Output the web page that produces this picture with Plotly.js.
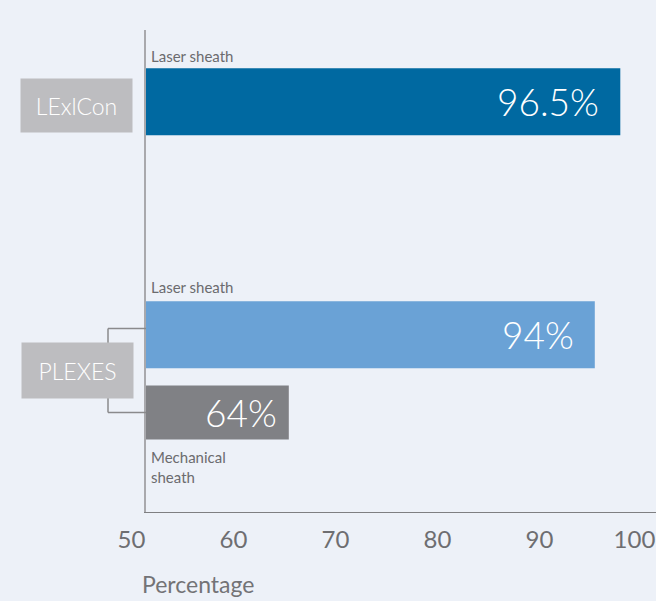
<!DOCTYPE html>
<html>
<head>
<meta charset="utf-8">
<script src="https://cdn.plot.ly/plotly-3.0.1.min.js"></script>
<style>html,body{margin:0;padding:0;background:#edf1f8;}#chart{width:656px;height:601px;}</style>
</head>
<body>
<div id="chart"></div>
<script>
// ---- data ----
const groups = ['LExlCon', 'PLEXES', 'PLEXES'];
const sheaths = ['Laser sheath', 'Laser sheath', 'Mechanical sheath'];
const values = [96.5, 94, 64];
const tickValues = [50, 60, 70, 80, 90, 100];
const axisTitle = 'Percentage';

// ---- derived ----
const ids = groups.map((g, i) => g + ' – ' + sheaths[i]);
const categoryOrder = [ids[0], ' ', '  ', ids[1], ids[2]];
const colors = ['#0069a1', '#6aa2d6', '#808185'];
const widths = [0.862, 0.862, 0.695];

const FONT = 'Lato, "Open Sans", "Noto Sans", sans-serif';

const trace = {
  type: 'bar',
  orientation: 'h',
  x: values,
  y: ids,
  width: widths,
  marker: {color: colors, line: {width: 0}},
  hoverinfo: 'skip',
  showlegend: false
};

const annotations = [];
// value labels inside bars
const padRight = [19, 19, 10];
values.forEach((v, i) => {
  annotations.push({
    x: v, y: ids[i], xref: 'x', yref: 'y',
    text: v + '%', showarrow: false,
    xanchor: 'right', yanchor: 'middle', xshift: -padRight[i],
    font: {family: FONT, size: 37, color: '#ffffff', weight: 300}
  });
});
// sheath labels
sheaths.forEach((s, i) => {
  const below = s.startsWith('Mechanical');
  annotations.push({
    x: tickValues[0], y: ids[i], xref: 'x', yref: 'y',
    text: below ? s.replace(' ', '<br>') : s,
    showarrow: false, align: 'left',
    xanchor: 'left', yanchor: 'middle', xshift: 3,
    yshift: below ? -55 : (i === 0 ? 46 : 48),
    font: {family: FONT, size: 15, color: '#6b6b6e'}
  });
});
// group boxes
annotations.push({
  x: 0, xref: 'paper', y: ids[0], yref: 'y',
  text: groups[0], showarrow: false,
  xanchor: 'right', yanchor: 'middle', xshift: -13, yshift: -4,
  width: 111, height: 53, borderpad: 0, bgcolor: '#bdbdc0',
  font: {family: FONT, size: 23, color: '#ffffff', weight: 300}
});
annotations.push({
  x: 0, xref: 'paper', y: 3.5, yref: 'y',
  text: groups[1], showarrow: false,
  xanchor: 'right', yanchor: 'middle', xshift: -12, yshift: 3,
  width: 111, height: 55, borderpad: 0, bgcolor: '#bdbdc0',
  font: {family: FONT, size: 23, color: '#ffffff', weight: 300}
});
// axis title
annotations.push({
  x: 0, xref: 'paper', y: 0, yref: 'paper',
  text: axisTitle, showarrow: false,
  xanchor: 'left', yanchor: 'middle', xshift: -6, yshift: -72,
  font: {family: FONT, size: 23, color: '#737376'}
});

const bracketColor = '#8a8a8c';
const shapes = [
  {type: 'line', xref: 'paper', yref: 'y', x0: -0.0745, x1: 0, y0: 2.92, y1: 2.92, line: {color: bracketColor, width: 1.5}},
  {type: 'line', xref: 'paper', yref: 'y', x0: -0.0745, x1: 0, y0: 4, y1: 4, line: {color: bracketColor, width: 1.5}},
  {type: 'line', xref: 'paper', yref: 'y', x0: -0.0745, x1: -0.0745, y0: 2.92, y1: 4, line: {color: bracketColor, width: 1.5}}
];

const layout = {
  width: 656, height: 601,
  margin: {l: 146, r: 0, t: 30, b: 89},
  paper_bgcolor: '#edf1f8',
  plot_bgcolor: '#edf1f8',
  font: {family: FONT},
  xaxis: {
    range: [50, 100],
    tickvals: tickValues,
    ticks: '',
    showgrid: false, zeroline: false,
    showline: true, linecolor: '#7f7f82', linewidth: 1.3,
    ticklabelposition: 'outside left',
    ticklabelstandoff: 6,
    tickfont: {family: FONT, size: 24, color: '#6e6e71'},
    fixedrange: true
  },
  yaxis: {
    type: 'category',
    categoryorder: 'array',
    categoryarray: categoryOrder,
    range: [5.281, -0.923],
    showticklabels: false,
    ticks: '', showgrid: false, zeroline: false,
    showline: true, linecolor: '#a9a9ad', linewidth: 2,
    fixedrange: true
  },
  annotations: annotations,
  shapes: shapes,
  showlegend: false
};

Plotly.newPlot('chart', [trace], layout, {displayModeBar: false, staticPlot: true});
</script>
</body>
</html>
